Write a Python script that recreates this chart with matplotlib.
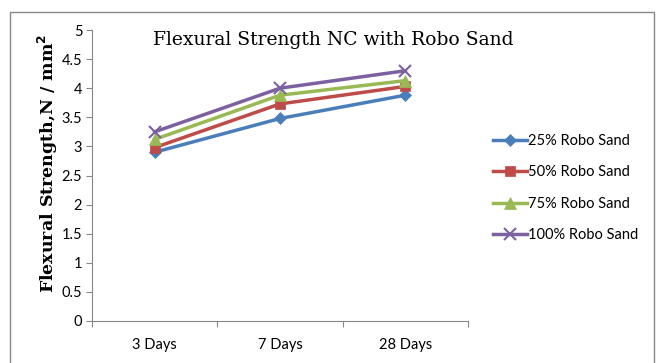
import matplotlib
matplotlib.use("Agg")
import matplotlib.pyplot as plt
from matplotlib.patches import Rectangle

# --- Data ---
categories = ["3 Days", "7 Days", "28 Days"]
series_names = ["25% Robo Sand", "50% Robo Sand", "75% Robo Sand", "100% Robo Sand"]
s25 = [2.90, 3.48, 3.88]
s50 = [2.98, 3.73, 4.03]
s75 = [3.12, 3.88, 4.13]
s100 = [3.25, 4.00, 4.30]
y_ticks = [0, 0.5, 1, 1.5, 2, 2.5, 3, 3.5, 4, 4.5, 5]

colors = ["#4A7EBB", "#BE4B48", "#98B954", "#7D60A0"]
markers = ["D", "s", "^", "x"]
msizes = [6, 7.5, 8, 9]

tick_font = ["Lato", "DejaVu Sans"]

fig = plt.figure(figsize=(6.57, 3.63), dpi=100)
fig.patch.set_facecolor("white")

# outer chart frame
fig.patches.append(Rectangle((10 / 657, -0.01), 644 / 657, 1 - 12 / 363 + 0.01,
                             transform=fig.transFigure, fill=False,
                             edgecolor="#888888", linewidth=1.0))

ax = fig.add_axes([92 / 657, 1 - 321 / 363, (468 - 92) / 657, (321 - 30) / 363])

x = list(range(len(categories)))
for vals, name, c, m, ms in zip([s25, s50, s75, s100], series_names, colors, markers, msizes):
    ax.plot(x, vals, color=c, linewidth=2.5, marker=m, markersize=ms,
            markeredgewidth=1.5 if m == "x" else 0.5, markeredgecolor=c,
            label=name)

ax.set_xlim(-0.5, 2.5)
ax.set_ylim(0, 5)
ax.set_yticks(y_ticks)
ax.set_yticklabels([f"{v:g}" for v in y_ticks], fontfamily=tick_font, fontsize=10.5)
ax.set_xticks([-0.5, 0.5, 1.5, 2.5])
ax.set_xticklabels([])
ax.set_xticks(x, minor=True)
ax.set_xticklabels(categories, minor=True, fontfamily=tick_font, fontsize=10.5)
ax.tick_params(axis="x", which="minor", length=0, pad=12)
ax.tick_params(axis="x", which="major", length=4, color="#868686")
ax.tick_params(axis="y", length=4, color="#868686", pad=3)

for side in ["top", "right"]:
    ax.spines[side].set_visible(False)
for side in ["left", "bottom"]:
    ax.spines[side].set_color("#868686")

ax.set_ylabel("Flexural Strength,N / mm$^\\mathbf{2}$", fontfamily="DejaVu Serif",
              fontweight="bold", fontsize=12.5)
ax.yaxis.set_label_coords(-0.085, 0.54)
fig.text(333 / 657, 1 - 40 / 363, "Flexural Strength NC with Robo Sand",
         fontfamily="DejaVu Serif", fontsize=13.5, ha="center", va="center")

leg = fig.legend(loc="center left", bbox_to_anchor=(480 / 657, 1 - 188 / 363),
                 frameon=False, prop={"family": tick_font, "size": 10.5},
                 handlelength=2.3, labelspacing=1.2, handletextpad=0.1)

fig.savefig("out.png", dpi=100)
